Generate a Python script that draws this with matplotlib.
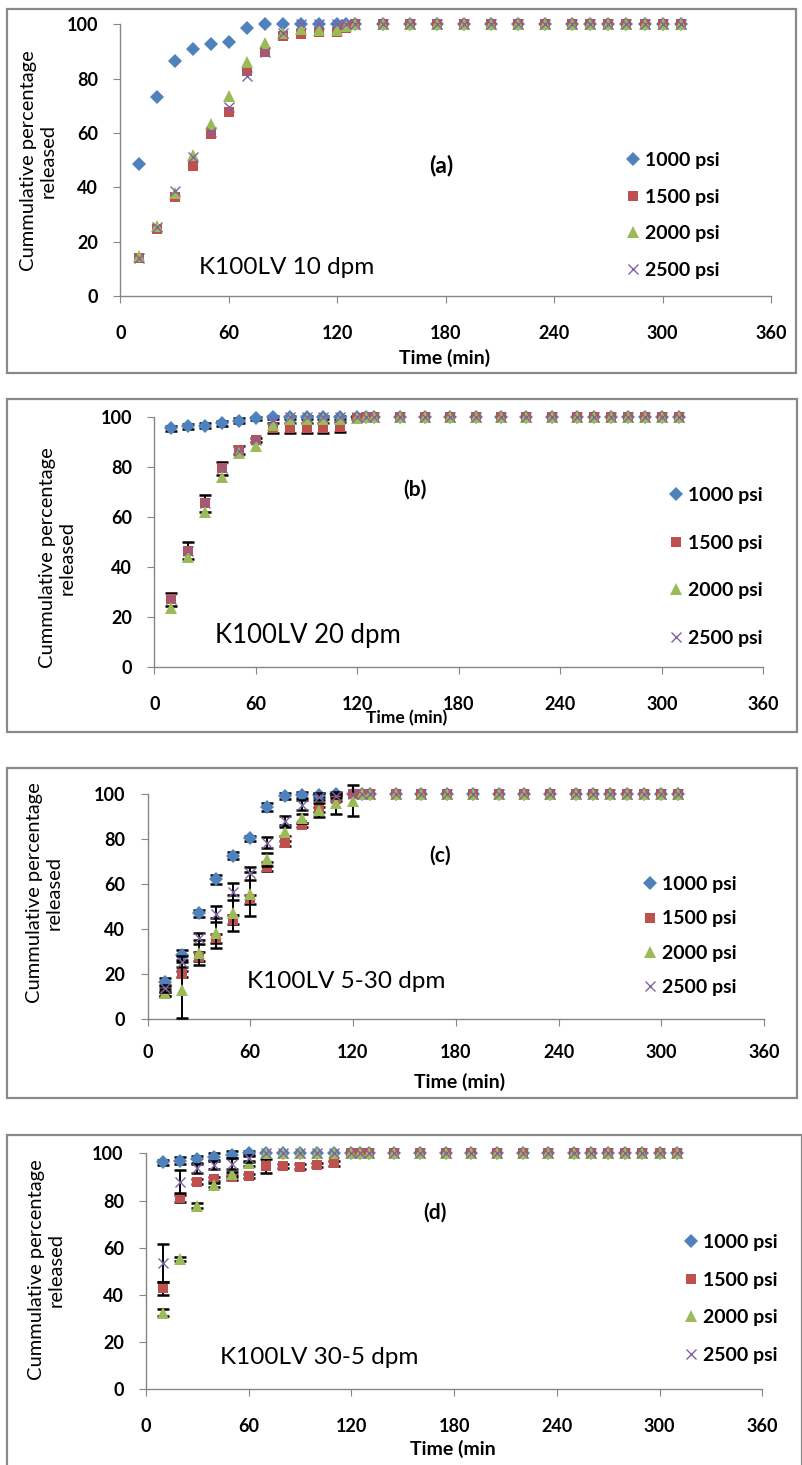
import numpy as np
import matplotlib.pyplot as plt
from matplotlib.patches import Rectangle

W, H = 803, 1465

time_min = [10, 20, 30, 40, 50, 60, 70, 80, 90, 100, 110, 120, 125, 130,
            145, 160, 175, 190, 205, 220, 235, 250, 260, 270, 280, 290, 300, 310]
x_ticks = [0, 60, 120, 180, 240, 300, 360]
y_ticks = [0, 20, 40, 60, 80, 100]
pressures = ['1000 psi', '1500 psi', '2000 psi', '2500 psi']

# (a) K100LV 10 dpm
a_1000 = [48.5, 73.2, 86.5, 90.9, 92.9, 93.6, 98.8, 100, 100, 100, 100, 100, 100, 100,
          100, 100, 100, 100, 100, 100, 100, 100, 100, 100, 100, 100, 100, 100]
a_1500 = [13.9, 24.8, 36.4, 48.0, 59.5, 67.7, 82.8, 89.7, 95.7, 96.5, 97.0, 97.0, 98.5, 100,
          100, 100, 100, 100, 100, 100, 100, 100, 100, 100, 100, 100, 100, 100]
a_2000 = [14.6, 25.8, 38.0, 51.8, 63.3, 73.5, 86.2, 93.1, 96.9, 98.1, 98.0, 98.0, 99.3, 100,
          100, 100, 100, 100, 100, 100, 100, 100, 100, 100, 100, 100, 100, 100]
a_2500 = [14.0, 25.4, 38.6, 51.3, 60.5, 69.7, 80.8, 89.9, 96.7, 100, 100, 100, 100, 100,
          100, 100, 100, 100, 100, 100, 100, 100, 100, 100, 100, 100, 100, 100]

# (b) K100LV 20 dpm
b_1000 = [95.6, 96.5, 96.7, 97.6, 98.7, 99.6, 100, 100, 100, 100, 100, 100, 100, 100,
          100, 100, 100, 100, 100, 100, 100, 100, 100, 100, 100, 100, 100, 100]
b_1500 = [27.0, 46.5, 65.5, 79.5, 86.9, 90.9, 95.9, 95.9, 95.9, 95.9, 96.3, 99.9, 100, 100,
          100, 100, 100, 100, 100, 100, 100, 100, 100, 100, 100, 100, 100, 100]
b_2000 = [23.4, 43.9, 61.9, 76.2, 85.6, 88.5, 97.0, 99.2, 99.2, 99.2, 99.2, 99.6, 100, 100,
          100, 100, 100, 100, 100, 100, 100, 100, 100, 100, 100, 100, 100, 100]
b_2500 = [27.0, 46.5, 65.5, 79.5, 86.6, 90.9, 98.9, 100, 100, 100, 100, 100, 100, 100,
          100, 100, 100, 100, 100, 100, 100, 100, 100, 100, 100, 100, 100, 100]
b_err_1000 = [1.0, 1.0, 1.0, 1.0, 1.0, 0.5, 0.5, 0.5, 0.5, 0.5, 0.5, 0, 0, 0]
b_err_1500 = [2.5, 3.5, 3.5, 2.5, 1.5, 1.0, 2.0, 2.0, 2.0, 2.0, 2.0, 0.5, 0, 0]

# (c) K100LV 5-30 dpm
c_1000 = [16.4, 28.6, 47.0, 62.1, 72.6, 80.3, 94.1, 99.1, 99.6, 99.6, 100, 100, 100, 100,
          100, 100, 100, 100, 100, 100, 100, 100, 100, 100, 100, 100, 100, 100]
c_1500 = [11.2, 20.1, 27.8, 35.9, 44.1, 53.3, 67.8, 78.1, 86.2, 93.2, 98.0, 100, 100, 100,
          100, 100, 100, 100, 100, 100, 100, 100, 100, 100, 100, 100, 100, 100]
c_2000 = [11.8, 13.0, 29.6, 38.2, 47.0, 55.6, 71.0, 83.3, 89.2, 92.9, 95.9, 97.0, 100, 100,
          100, 100, 100, 100, 100, 100, 100, 100, 100, 100, 100, 100, 100, 100]
c_2500 = [13.8, 25.6, 35.9, 46.7, 56.7, 64.8, 78.4, 88.2, 95.1, 98.8, 99.1, 100, 100, 100,
          100, 100, 100, 100, 100, 100, 100, 100, 100, 100, 100, 100, 100, 100]
c_err_1000 = [1.8, 2.2, 1.5, 2.0, 1.5, 1.0, 1.8, 1.5, 1.5, 1.0, 0.5, 0, 0, 0]
c_err_1500 = [1.0, 1.5, 2.0, 2.0, 2.0, 2.0, 2.0, 1.0, 1.0, 1.0, 1.0, 0, 0, 0]
c_err_2000 = [1.5, 12.3, 5.5, 6.7, 8.0, 9.6, 3.0, 2.0, 2.0, 3.3, 4.8, 6.8, 0, 0]
c_err_2500 = [1.5, 2.5, 2.5, 3.5, 3.7, 2.8, 2.5, 2.0, 2.2, 1.5, 1.0, 0, 0, 0]

# (d) K100LV 30-5 dpm
d_1000 = [96.2, 96.9, 97.5, 98.6, 99.3, 100, 100, 100, 100, 100, 100, 100, 100, 100,
          100, 100, 100, 100, 100, 100, 100, 100, 100, 100, 100, 100, 100, 100]
d_1500 = [42.8, 80.9, 88.0, 89.1, 89.8, 90.4, 94.6, 94.6, 94.4, 95.1, 95.8, 100, 100, 100,
          100, 100, 100, 100, 100, 100, 100, 100, 100, 100, 100, 100, 100, 100]
d_2000 = [32.5, 55.2, 77.8, 86.6, 91.1, 95.8, 100, 100, 100, 100, 100, 100, 100, 100,
          100, 100, 100, 100, 100, 100, 100, 100, 100, 100, 100, 100, 100, 100]
d_2500 = [53.4, 88.0, 93.6, 95.1, 95.5, 97.9, 100, 100, 100, 100, 100, 100, 100, 100,
          100, 100, 100, 100, 100, 100, 100, 100, 100, 100, 100, 100, 100, 100]
d_err_1000 = [1.0, 1.5, 1.5, 1.5, 1.5, 1.0, 0, 0, 0, 0, 0, 0, 0, 0]
d_err_1500 = [2.8, 1.5, 1.0, 1.0, 1.0, 1.0, 2.8, 1.0, 1.0, 1.0, 1.0, 0, 0, 0]
d_err_2000 = [1.5, 1.0, 1.0, 1.0, 1.0, 1.0, 0, 0, 0, 0, 0, 0, 0, 0]
d_err_2500 = [8.0, 5.0, 2.0, 1.7, 2.3, 1.5, 0, 0, 0, 0, 0, 0, 0, 0]

colors = ['#4F81BD', '#C0504D', '#9BBB59', '#8064A2']
markers = ['D', 's', '^', 'x']
msizes = [7.0, 7.5, 8.0, 7.0]
FONT = 'Lato'
GRAY = '#868686'

panels = [
    dict(series=[a_1000, a_1500, a_2000, a_2500], errs=None,
         frame=(7, 9, 796, 373), ax=(120.5, 771, 24.3, 296), xpad=16,
         tag='(a)', tagpos=(441, 165), tagfs=16.5, name='K100LV 10 dpm', namepos=(199, 267),
         namefs=17.5, xlab='Time (min)', xlabpos=(445, 358), xlabfs=14, ylabpos=(38, 161),
         leg=(633, 158, 38.3)),
    dict(series=[b_1000, b_1500, b_2000, b_2500], errs=[b_err_1000, b_err_1500, None, None],
         frame=(7, 399, 797, 732), ax=(154.3, 763.3, 417.3, 666.7), xpad=16,
         tag='(b)', tagpos=(415, 490), tagfs=15, name='K100LV 20 dpm', namepos=(215, 635),
         namefs=18.5, xlab='Time (min)', xlabpos=(407, 718), xlabfs=12.5, ylabpos=(57.5, 558),
         leg=(676, 493, 49.3)),
    dict(series=[c_1000, c_1500, c_2000, c_2500], errs=[c_err_1000, c_err_1500, c_err_2000, c_err_2500],
         frame=(7, 768, 797, 1098), ax=(147.5, 764, 794, 1019.3), xpad=13,
         tag='(c)', tagpos=(440, 856), tagfs=15, name='K100LV 5-30 dpm', namepos=(247, 981),
         namefs=17.5, xlab='Time (min)', xlabpos=(460, 1082), xlabfs=14, ylabpos=(44.5, 893),
         leg=(650, 882, 36)),
    dict(series=[d_1000, d_1500, d_2000, d_2500], errs=[d_err_1000, d_err_1500, d_err_2000, d_err_2500],
         frame=(7, 1135, 802, 1475), ax=(146, 762.3, 1153.3, 1389.3), xpad=16,
         tag='(d)', tagpos=(435, 1213), tagfs=15, name='K100LV 30-5 dpm', namepos=(220, 1357),
         namefs=17.5, xlab='Time (min', xlabpos=(453, 1449), xlabfs=14, ylabpos=(46, 1270),
         leg=(691, 1240, 39.3)),
]


def fx(x):
    return x / W


def fy(y):
    return 1 - y / H


fig = plt.figure(figsize=(W / 100, H / 100), dpi=100)

for p in panels:
    l, t, r, b = p['frame']
    fig.add_artist(Rectangle((fx(l), fy(b)), (r - l) / W, (b - t) / H, transform=fig.transFigure,
                             fill=False, ec='#898989', lw=1.6))

    x0, x1, ytop, ybot = p['ax']
    ax = fig.add_axes([fx(x0), fy(ybot), (x1 - x0) / W, (ybot - ytop) / H])
    ax.set_xlim(0, 360)
    ax.set_ylim(0, 100)
    ax.set_xticks(x_ticks)
    ax.set_yticks(y_ticks)
    for s in ['top', 'right']:
        ax.spines[s].set_visible(False)
    for s in ['left', 'bottom']:
        ax.spines[s].set_color(GRAY)
        ax.spines[s].set_linewidth(1.0)
    ax.tick_params(axis='x', direction='out', length=5, color=GRAY, pad=p['xpad'],
                   labelsize=13)
    ax.tick_params(axis='y', direction='out', length=5, color=GRAY, pad=11, labelsize=13)
    for lab in ax.get_xticklabels() + ax.get_yticklabels():
        lab.set_fontfamily(FONT)
        lab.set_fontweight('bold')

    handles = []
    for i, vals in enumerate(p['series']):
        z = 3 + i
        if p['errs'] is not None and p['errs'][i] is not None:
            e = np.array(p['errs'][i], dtype=float)
            idx = np.nonzero(e > 0)[0]
            ax.errorbar(np.array(time_min)[idx], np.array(vals)[idx], yerr=e[idx], fmt='none',
                        ecolor='black', elinewidth=1.4, capsize=4, capthick=1.8,
                        zorder=z, clip_on=False)
        mk = dict(marker=markers[i], ms=msizes[i], color=colors[i], linestyle='none')
        if markers[i] == 'x':
            mk.update(mew=1.0)
        else:
            mk.update(mew=0)
        h, = ax.plot(time_min, vals, zorder=z + 0.5, clip_on=False, **mk)
        handles.append(h)

    mx, my, pitch = p['leg']
    fs = 14
    fs_px = fs * 100 / 72
    ax.legend(handles, pressures, loc='center left',
              bbox_to_anchor=(fx(mx - 7), fy(my + 1.5 * pitch)),
              bbox_transform=fig.transFigure, frameon=False, borderpad=0,
              borderaxespad=0, handlelength=0.7, handletextpad=0.3,
              labelspacing=(pitch - 0.965 * fs_px) / fs_px,
              prop=dict(family=FONT, weight='bold', size=fs))

    fig.text(fx(p['tagpos'][0]), fy(p['tagpos'][1]), p['tag'], ha='center', va='center',
             fontsize=p['tagfs'], fontweight='bold', family=FONT)
    fig.text(fx(p['namepos'][0]), fy(p['namepos'][1]), p['name'], ha='left', va='center',
             fontsize=p['namefs'], family=FONT)
    fig.text(fx(p['xlabpos'][0]), fy(p['xlabpos'][1]), p['xlab'], ha='center', va='center',
             fontsize=p['xlabfs'], fontweight='bold', family=FONT)
    fig.text(fx(p['ylabpos'][0]), fy(p['ylabpos'][1]), 'Cummulative percentage\nreleased',
             ha='center', va='center', rotation=90, multialignment='center',
             fontsize=14.5, family=FONT, linespacing=1.2)

fig.savefig('out.png', dpi=100)
